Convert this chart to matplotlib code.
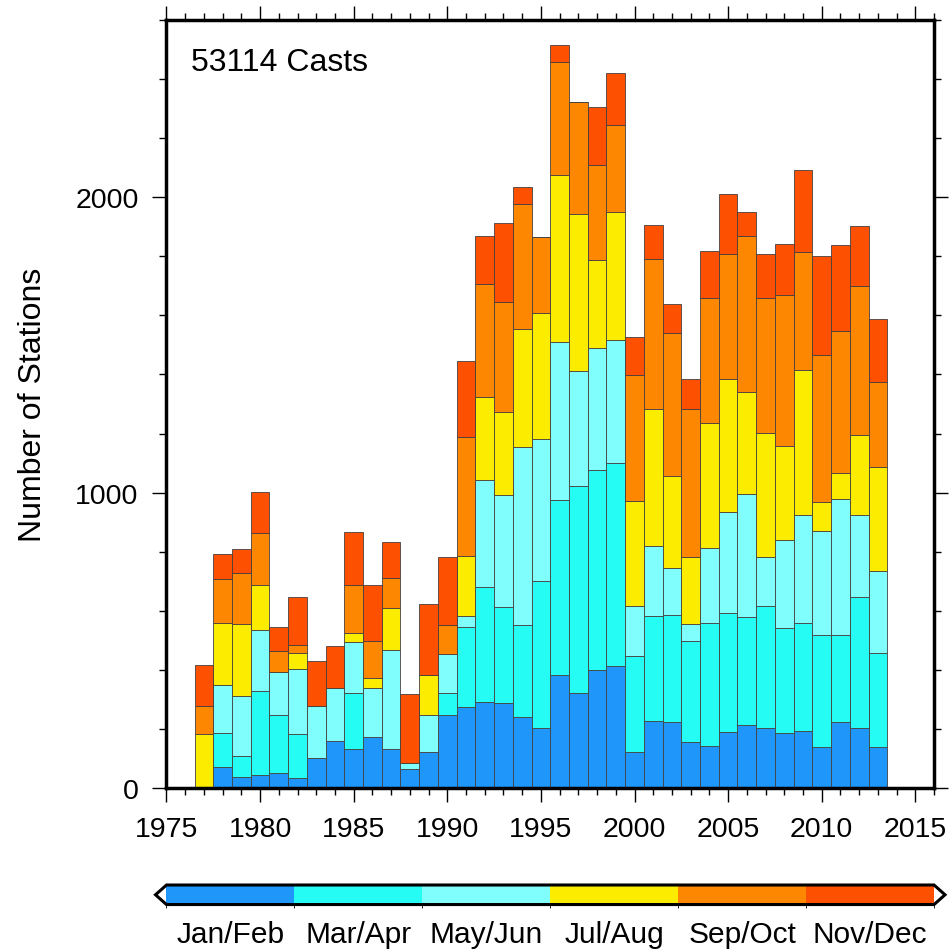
import numpy as np
import matplotlib
matplotlib.use("Agg")
import matplotlib.pyplot as plt
from matplotlib.colors import ListedColormap, BoundaryNorm
from matplotlib.colorbar import ColorbarBase
from matplotlib.ticker import MultipleLocator

plt.rcParams['font.family'] = ['Liberation Sans', 'DejaVu Sans']

# station counts per year, split by two-month season
years = list(range(1975, 2017))

jan_feb = [0, 0, 0, 72, 37, 46, 51, 34, 104, 160, 132, 172, 134, 64, 123, 247,
           275, 293, 289, 242, 205, 383, 323, 400, 413, 124, 229, 223, 158, 144,
           190, 214, 203, 186, 195, 141, 223, 203, 138, 0, 0, 0]
mar_apr = [0, 0, 0, 116, 71, 284, 197, 148, 0, 0, 189, 0, 0, 0, 0, 76,
           271, 388, 325, 312, 495, 593, 698, 678, 687, 323, 353, 362, 340, 415,
           403, 367, 413, 357, 364, 376, 296, 444, 319, 0, 0, 0]
may_jun = [0, 0, 0, 160, 204, 206, 144, 221, 173, 180, 173, 168, 333, 20, 124, 132,
           38, 363, 379, 599, 482, 535, 389, 411, 417, 171, 237, 160, 58, 255,
           341, 416, 168, 296, 364, 352, 458, 276, 277, 0, 0, 0]
jul_aug = [0, 0, 182, 211, 243, 153, 0, 54, 0, 0, 30, 32, 144, 0, 135, 0,
           203, 279, 280, 401, 427, 563, 534, 299, 433, 353, 463, 310, 226, 422,
           449, 344, 419, 319, 491, 99, 91, 271, 353, 0, 0, 0]
sep_oct = [0, 0, 96, 148, 172, 176, 71, 28, 0, 0, 163, 126, 102, 0, 0, 96,
           400, 382, 371, 423, 255, 383, 376, 319, 293, 428, 507, 486, 502, 421,
           423, 527, 454, 510, 401, 499, 479, 506, 288, 0, 0, 0]
nov_dec = [4, 4, 139, 84, 84, 136, 84, 163, 153, 142, 180, 189, 119, 236, 240, 231,
           257, 163, 267, 58, 0, 58, 0, 198, 177, 126, 118, 97, 99, 161,
           206, 80, 150, 173, 275, 334, 290, 202, 211, 3, 3, 3]

seasons = ['Jan/Feb', 'Mar/Apr', 'May/Jun', 'Jul/Aug', 'Sep/Oct', 'Nov/Dec']
colors = ['#1f96fa', '#25fcf4', '#80fdfd', '#fbec00', '#fd8700', '#fd5000']
n_casts = 53114

series = np.array([jan_feb, mar_apr, may_jun, jul_aug, sep_oct, nov_dec])

fig = plt.figure(figsize=(9.53, 9.53), dpi=100)
ax = fig.add_axes([0.1747, 0.1718, 0.8054, 0.8065])

bottom = np.zeros(len(years))
for vals, col in zip(series, colors):
    ax.bar(years, vals, width=1.0, bottom=bottom, color=col,
           edgecolor='#454040', linewidth=0.6, zorder=2)
    bottom += vals

ax.set_xlim(1975, 2016)
ax.set_ylim(0, 2600)
ax.xaxis.set_major_locator(MultipleLocator(5))
ax.xaxis.set_minor_locator(MultipleLocator(1))
ax.yaxis.set_major_locator(MultipleLocator(1000))
ax.yaxis.set_minor_locator(MultipleLocator(200))
ax.tick_params(which='both', direction='out', top=True, right=True, width=1.0,
               labelsize=20.5, pad=10)
ax.tick_params(which='major', length=10)
ax.tick_params(which='minor', length=5)
for sp in ax.spines.values():
    sp.set_linewidth(2.5)
    sp.set_zorder(5)

ax.set_ylabel('Number of Stations', fontsize=23, labelpad=20)
ax.text(0.032, 0.9346, f'{n_casts} Casts', transform=ax.transAxes,
        fontsize=23, va='baseline', ha='left')

# season colour key; the axes also holds the two end triangles
ext = 0.0143
cax = fig.add_axes([0.1747 - ext * 0.8054, 0.0498,
                    0.8054 * (1 + 2 * ext), 0.0205])
cmap = ListedColormap(colors)
cmap.set_under('white')
cmap.set_over('white')
norm = BoundaryNorm(np.arange(7), cmap.N)
cb = ColorbarBase(cax, cmap=cmap, norm=norm, orientation='horizontal',
                  extend='both', extendfrac=ext, drawedges=False)
cb.outline.set_linewidth(2.2)
cb.set_ticks(np.arange(6) + 0.5)
cb.set_ticklabels(seasons)
cax.tick_params(length=0, labelsize=21.5, pad=11)

fig.savefig('out.png', dpi=100)
